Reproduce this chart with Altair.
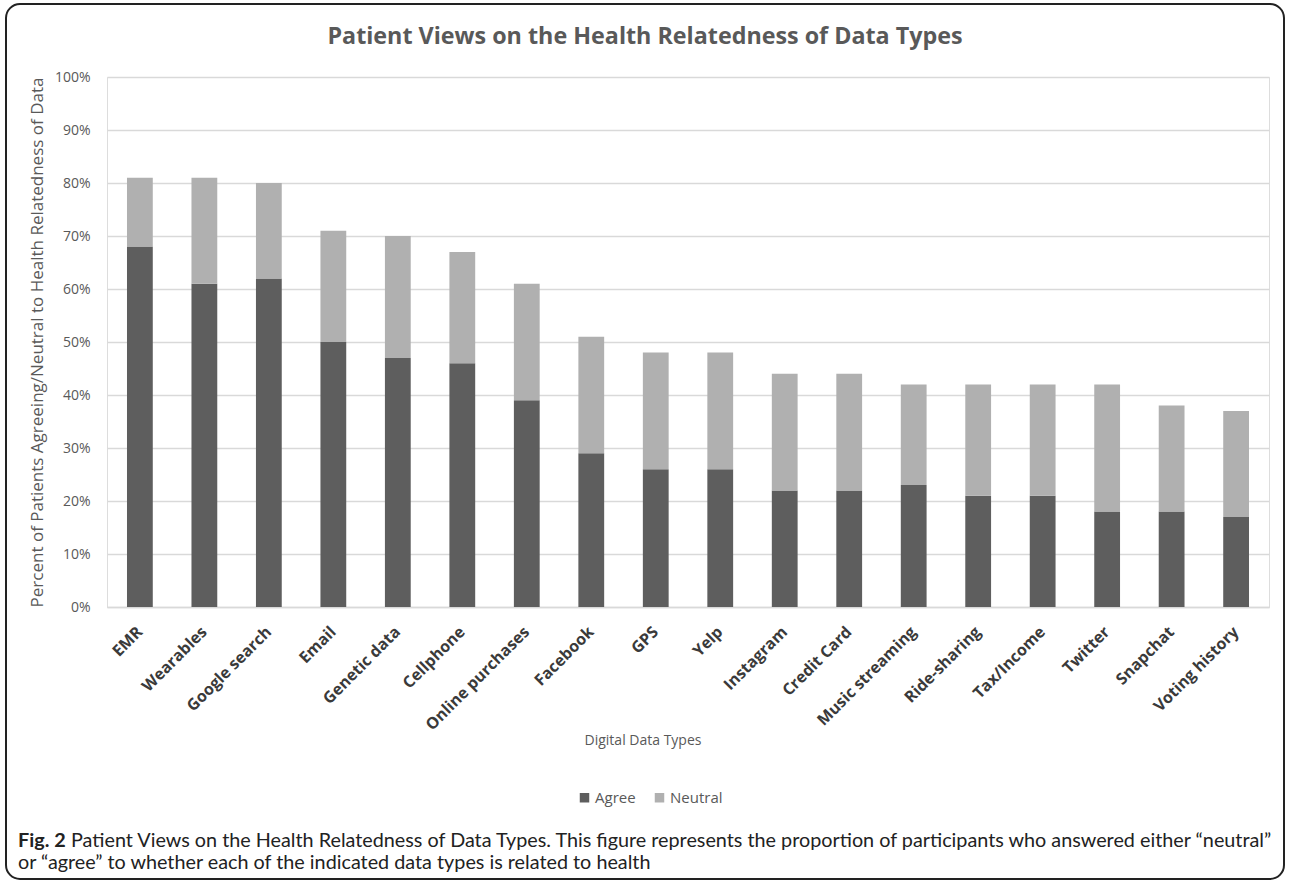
import altair as alt
import pandas as pd

categories = ["EMR", "Wearables", "Google search", "Email", "Genetic data", "Cellphone",
              "Online purchases", "Facebook", "GPS", "Yelp", "Instagram", "Credit Card",
              "Music streaming", "Ride-sharing", "Tax/Income", "Twitter", "Snapchat",
              "Voting history"]
agree = [68, 61, 62, 50, 47, 46, 39, 29, 26, 26, 22, 22, 23, 21, 21, 18, 18, 17]
total = [81, 81, 80, 71, 70, 67, 61, 51, 48, 48, 44, 44, 42, 42, 42, 42, 38, 37]
series = ["Agree", "Neutral"]
colors = ["#5e5e5e", "#b0b0b0"]

rows = []
for c, a, t in zip(categories, agree, total):
    rows.append({"type": c, "resp": "Agree", "val": a / 100, "ord": 0})
    rows.append({"type": c, "resp": "Neutral", "val": (t - a) / 100, "ord": 1})
df = pd.DataFrame(rows)

W, H = 1162, 530
FONT = "Open Sans"
CAPFONT = "Lato"
GRAY = "#595959"

bars = alt.Chart(df).mark_bar().encode(
    x=alt.X("type:N", sort=categories, title=None,
            scale=alt.Scale(paddingInner=0.6, paddingOuter=0.31),
            axis=alt.Axis(labelAngle=-45, labelAlign="right", labelBaseline="middle",
                          labelFont=FONT, labelFontSize=16, labelFontWeight="bold",
                          labelColor="#3a3a3a", labelPadding=22,
                          ticks=False, domainColor="#d9d9d9", domainWidth=1.5,
                          labelOverlap=False)),
    y=alt.Y("val:Q", stack="zero",
            scale=alt.Scale(domain=[0, 1], nice=False),
            title="Percent of Patients Agreeing/Neutral to Health Relatedness of Data",
            axis=alt.Axis(format=".0%", values=[i / 10 for i in range(11)],
                          labelFont=FONT, labelFontSize=14, labelColor=GRAY, labelPadding=17,
                          ticks=False, domain=False, gridColor="#d9d9d9", gridWidth=1.5,
                          titleFont=FONT, titleFontSize=17, titleFontWeight="normal",
                          titleColor=GRAY, titleX=-70, titleBaseline="middle")),
    color=alt.Color("resp:N", scale=alt.Scale(domain=series, range=colors),
                    legend=alt.Legend(title=None, orient="none", legendX=470, legendY=713,
                                      direction="horizontal", symbolType="square",
                                      symbolSize=90, symbolStrokeWidth=0,
                                      labelFont=FONT, labelFontSize=15, labelColor=GRAY,
                                      labelOffset=3, columnPadding=16)),
    order=alt.Order("ord:Q"),
)

one = pd.DataFrame({"k": [0]})

border = alt.Chart(one).mark_rect(fill="transparent", stroke="#222222", strokeWidth=2,
                                  cornerRadius=14).encode(
    x=alt.value(-101), x2=alt.value(1177), y=alt.value(-73), y2=alt.value(802))

title = alt.Chart(one).mark_text(text="Patient Views on the Health Relatedness of Data Types",
                                 font=FONT, fontSize=23.3, fontWeight="bold", color=GRAY,
                                 align="center", baseline="middle").encode(
    x=alt.value(538), y=alt.value(-40))

xtitle = alt.Chart(one).mark_text(text="Digital  Data Types", font=FONT, fontSize=14,
                                  color=GRAY, align="center", baseline="middle").encode(
    x=alt.value(536), y=alt.value(664))

cap1a = alt.Chart(one).mark_text(text="Fig. 2", font=CAPFONT, fontSize=19.8, fontWeight="bold",
                                 color="#222222", align="left", baseline="middle").encode(
    x=alt.value(-89), y=alt.value(764))
cap1b = alt.Chart(one).mark_text(
    text="Patient Views on the Health Relatedness of Data Types. This figure represents the proportion of participants who answered either \u201cneutral\u201d",
    font=CAPFONT, fontSize=19.8, color="#222222", align="left", baseline="middle").encode(
    x=alt.value(-36), y=alt.value(764))
cap2 = alt.Chart(one).mark_text(
    text="or \u201cagree\u201d to whether each of the indicated data types is related to health",
    font=CAPFONT, fontSize=19.8, color="#222222", align="left", baseline="middle").encode(
    x=alt.value(-89), y=alt.value(786))

chart = alt.layer(bars, border, title, xtitle, cap1a, cap1b, cap2).properties(
    width=W, height=H,
    autosize=alt.AutoSizeParams(type="none"),
    padding={"left": 107, "top": 77, "right": 20, "bottom": 274},
).configure_view(stroke=None).configure(background="white")

chart.save("out.html", embed_options={"renderer": "svg", "actions": False})
